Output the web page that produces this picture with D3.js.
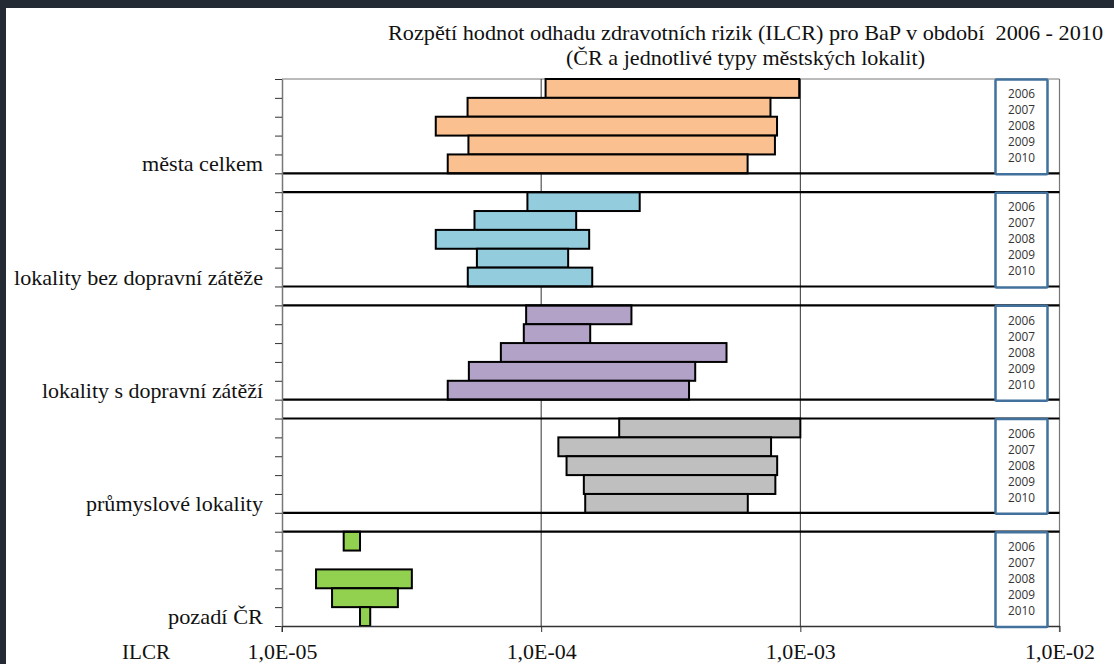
<!DOCTYPE html>
<html><head><meta charset="utf-8">
<script src="https://cdn.jsdelivr.net/npm/d3@7"></script>
<style>html,body{margin:0;padding:0;background:#fff;}svg{display:block;}
.serif{font-family:"Liberation Serif","DejaVu Serif","Times New Roman",Times,serif;}
.sans{font-family:"Open Sans","Liberation Sans",sans-serif;}
</style>
</head><body>
<svg id="c" width="1114" height="664"></svg>
<script>
// ---- data ----
const groups = ["města celkem", "lokality bez dopravní zátěže", "lokality s dopravní zátěží", "průmyslové lokality", "pozadí ČR"];
const years = ["2006", "2007", "2008", "2009", "2010"];
const colors = ["#FAC090", "#93CDDD", "#B3A2C7", "#BFBFBF", "#92D050"];
// minimum and maximum ILCR per year (2006..2010)
const mestaMin = [1.04e-4, 5.2e-5, 3.92e-5, 5.24e-5, 4.36e-5];
const mestaMax = [9.9e-4, 7.67e-4, 8.13e-4, 7.98e-4, 6.26e-4];
const bezMin = [8.85e-5, 5.53e-5, 3.92e-5, 5.65e-5, 5.21e-5];
const bezMax = [2.40e-4, 1.365e-4, 1.532e-4, 1.271e-4, 1.574e-4];
const sMin = [8.75e-5, 8.57e-5, 6.99e-5, 5.26e-5, 4.36e-5];
const sMax = [2.23e-4, 1.546e-4, 5.19e-4, 3.93e-4, 3.72e-4];
const prumMin = [2.0e-4, 1.165e-4, 1.253e-4, 1.461e-4, 1.479e-4];
const prumMax = [1.0e-3, 7.71e-4, 8.14e-4, 8.01e-4, 6.27e-4];
const pozadiMin = [1.73e-5, null, 1.353e-5, 1.56e-5, 2.0e-5];
const pozadiMax = [2.0e-5, null, 3.17e-5, 2.80e-5, 2.19e-5];
const xTicks = [1e-5, 1e-4, 1e-3, 1e-2];
const xTickLabels = ["1,0E-05", "1,0E-04", "1,0E-03", "1,0E-02"];
const titleLines = ["Rozpětí hodnot odhadu zdravotních rizik (ILCR) pro BaP v období  2006 - 2010", "(ČR a jednotlivé typy městských lokalit)"];
const axisTitle = "ILCR";

const mins = [mestaMin, bezMin, sMin, prumMin, pozadiMin];
const maxs = [mestaMax, bezMax, sMax, prumMax, pozadiMax];

// ---- layout ----
const svg = d3.select("#c");
const pTop = 79, pBottom = 626, pLeft = 282, pRight = 1059.5;
const nRows = groups.length * 6 - 1;
const x = d3.scaleLog().domain([1e-5, 1e-2]).range([pLeft, pRight]);
const yl = d3.scaleLinear().domain([0, nRows]).range([pTop, pBottom]);

// dark frame
svg.append("rect").attr("x", 0).attr("y", 0).attr("width", 1114).attr("height", 8).attr("fill", "#232a33");
svg.append("rect").attr("x", 0).attr("y", 0).attr("width", 6).attr("height", 664).attr("fill", "#232a33");

// title
const tl = [[40, 715, 745.5], [65, 359, 745.5]];
titleLines.forEach((t, i) => {
  svg.append("text").attr("class", "serif").attr("x", tl[i][2]).attr("y", tl[i][0]).attr("text-anchor", "middle")
    .attr("font-size", 21).attr("fill", "#111").style("white-space", "pre")
    .attr("textLength", tl[i][1]).attr("lengthAdjust", "spacingAndGlyphs").text(t);
});

// plot top border
svg.append("line").attr("x1", pLeft).attr("x2", pRight).attr("y1", pTop).attr("y2", pTop)
  .attr("stroke", "#777").attr("stroke-width", 1);

// vertical gridlines
[1e-4, 1e-3].forEach(v => {
  svg.append("line").attr("x1", x(v)).attr("x2", x(v)).attr("y1", pTop).attr("y2", pBottom)
    .attr("stroke", "#333").attr("stroke-width", 1);
});
svg.append("line").attr("x1", x(1e-2)).attr("x2", x(1e-2)).attr("y1", pTop).attr("y2", pBottom + 6)
  .attr("stroke", "#777").attr("stroke-width", 1.2);

// bars
groups.forEach((g, gi) => {
  years.forEach((yr, i) => {
    const lo = mins[gi][i], hi = maxs[gi][i];
    if (lo == null || hi == null) return;
    const r = gi * 6 + i;
    svg.append("rect").attr("x", x(lo)).attr("y", yl(r)).attr("width", x(hi) - x(lo))
      .attr("height", yl(r + 1) - yl(r)).attr("fill", colors[gi])
      .attr("stroke", "#000").attr("stroke-width", 2);
  });
});

// group separator lines
for (let gi = 0; gi < groups.length - 1; gi++) {
  [gi * 6 + 5, gi * 6 + 6].forEach(r => {
    svg.append("line").attr("x1", pLeft).attr("x2", pRight).attr("y1", yl(r)).attr("y2", yl(r))
      .attr("stroke", "#000").attr("stroke-width", 2.2);
  });
}

// left axis
const ya = svg.append("g").attr("transform", `translate(${pLeft},0)`)
  .call(d3.axisLeft(yl).tickValues(d3.range(nRows + 1)).tickFormat("").tickSize(7).tickSizeOuter(0));
ya.select(".domain").attr("stroke", "#777").attr("stroke-width", 1.5);
ya.selectAll(".tick line").attr("stroke", "#333").attr("stroke-width", 1);
svg.append("line").attr("x1", pLeft).attr("x2", pLeft).attr("y1", pBottom).attr("y2", pBottom + 6)
  .attr("stroke", "#777").attr("stroke-width", 1.5);

// bottom axis
const xa = svg.append("g").attr("transform", `translate(0,${pBottom})`)
  .call(d3.axisBottom(x).tickValues(xTicks).tickFormat((d, i) => xTickLabels[i]).tickSize(6).tickSizeOuter(0));
xa.attr("font-family", null);
xa.select(".domain").attr("stroke", "#333").attr("stroke-width", 1.5);
xa.selectAll(".tick line").attr("stroke", "#333");
xa.selectAll(".tick text").attr("class", "serif").attr("font-size", 21).attr("fill", "#111")
  .attr("y", 33).attr("dy", 0).attr("textLength", 70).attr("lengthAdjust", "spacingAndGlyphs");

svg.append("text").attr("class", "serif").attr("x", 146).attr("y", 659).attr("text-anchor", "middle")
  .attr("font-size", 21).attr("fill", "#111")
  .attr("textLength", 48).attr("lengthAdjust", "spacingAndGlyphs").text(axisTitle);

// category labels
const labelW = [121, 249, 221, 177, 95];
groups.forEach((g, gi) => {
  const r = gi * 6 + 4;
  const cy = (yl(r) + yl(r + 1)) / 2;
  svg.append("text").attr("class", "serif").attr("x", 263).attr("y", cy + 7.5).attr("text-anchor", "end")
    .attr("font-size", 21).attr("fill", "#111")
    .attr("textLength", labelW[gi]).attr("lengthAdjust", "spacingAndGlyphs").text(g);
});

// year boxes
groups.forEach((g, gi) => {
  const t0 = yl(gi * 6), t1 = yl(gi * 6 + 5);
  svg.append("rect").attr("x", 995.5).attr("y", t0 + 0.5).attr("width", 52).attr("height", t1 - t0 + 0.5)
    .attr("fill", "#fff").attr("stroke", "#41719C").attr("stroke-width", 2.5).attr("rx", 1);
  years.forEach((yr, i) => {
    svg.append("text").attr("class", "sans").attr("x", 1021.5).attr("y", t0 + 15 + 16 * i).attr("dy", "0.35em")
      .attr("text-anchor", "middle")
      .attr("font-size", 12).attr("fill", "#333").attr("textLength", 27).attr("lengthAdjust", "spacingAndGlyphs").text(yr);
  });
});
</script>
</body></html>
